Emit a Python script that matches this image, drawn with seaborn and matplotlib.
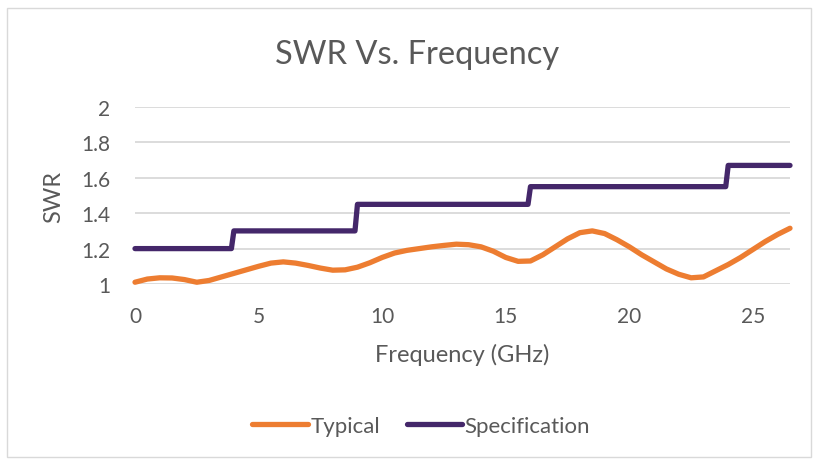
import matplotlib
matplotlib.use("Agg")
import matplotlib.pyplot as plt
import seaborn as sns
import pandas as pd
from matplotlib.patches import Rectangle

# ---- data ----
typ_freq = [0, 0.5, 1.0, 1.5, 2.0, 2.5, 3.0, 3.5, 4.0, 4.5, 5.0, 5.5, 6.0, 6.5,
            7.0, 7.5, 8.0, 8.5, 9.0, 9.5, 10.0, 10.5, 11.0, 11.5, 12.0, 12.5,
            13.0, 13.5, 14.0, 14.5, 15.0, 15.5, 16.0, 16.5, 17.0, 17.5, 18.0,
            18.5, 19.0, 19.5, 20.0, 20.5, 21.0, 21.5, 22.0, 22.5, 23.0, 23.5,
            24.0, 24.5, 25.0, 25.5, 26.0, 26.5]
typ_swr = [1.010, 1.028, 1.035, 1.034, 1.025, 1.010, 1.020, 1.040, 1.060, 1.080,
           1.100, 1.118, 1.125, 1.118, 1.105, 1.090, 1.078, 1.080, 1.095, 1.120,
           1.150, 1.175, 1.190, 1.200, 1.210, 1.218, 1.225, 1.222, 1.210, 1.185,
           1.150, 1.128, 1.130, 1.165, 1.210, 1.255, 1.290, 1.300, 1.285, 1.250,
           1.210, 1.165, 1.125, 1.085, 1.055, 1.035, 1.040, 1.075, 1.110, 1.150,
           1.195, 1.240, 1.280, 1.315]

spec_freq = [0, 3.9, 4.0, 8.9, 9.0, 15.9, 16.0, 23.9, 24.0, 26.5]
spec_swr = [1.20, 1.20, 1.30, 1.30, 1.45, 1.45, 1.55, 1.55, 1.67, 1.67]

x_ticks = [0, 5, 10, 15, 20, 25]
y_ticks = [1, 1.2, 1.4, 1.6, 1.8, 2]
y_tick_labels = ["1", "1.2", "1.4", "1.6", "1.8", "2"]

ORANGE = "#ED7D31"
PURPLE = "#44276A"
GREY = "#595959"

sns.set_style("white")
plt.rcParams["font.family"] = ["Lato", "DejaVu Sans"]

W, H = 813, 460
fig = plt.figure(figsize=(W / 100, H / 100), dpi=100)

# chart border
fig.patches.append(Rectangle((7 / W, 1 - 458 / H), (811 - 7) / W, (458 - 9) / H,
                             transform=fig.transFigure, fill=False,
                             edgecolor="#D9D9D9", lw=1.0))

ax = fig.add_axes([135 / W, 1 - 285 / H, (790 - 135) / W, (285 - 108) / H])

df_typ = pd.DataFrame({"Frequency": typ_freq, "SWR": typ_swr})
df_spec = pd.DataFrame({"Frequency": spec_freq, "SWR": spec_swr})

sns.lineplot(data=df_typ, x="Frequency", y="SWR", ax=ax, color=ORANGE,
             lw=3.8, label="Typical", clip_on=False, solid_capstyle="round",
             zorder=3)
sns.lineplot(data=df_spec, x="Frequency", y="SWR", ax=ax, color=PURPLE,
             lw=3.8, label="Specification", clip_on=False,
             solid_capstyle="round", zorder=3, sort=False)

ax.set_xlim(0, 26.5)
ax.set_ylim(1, 2)
ax.set_xticks(x_ticks)
ax.set_yticks(y_ticks)
ax.set_yticklabels(y_tick_labels)
ax.grid(axis="y", color="#D9D9D9", lw=1.3)
ax.grid(axis="x", visible=False)
for s in ax.spines.values():
    s.set_visible(False)
ax.tick_params(axis="both", length=0, labelsize=15, colors=GREY)
ax.tick_params(axis="x", pad=16)
ax.tick_params(axis="y", pad=18)

ax.set_xlabel("Frequency (GHz)", fontsize=17, color=GREY, labelpad=12)
ax.set_ylabel("SWR", fontsize=17, color=GREY, labelpad=12)

fig.text(417.5 / W, 1 - 55 / H, "SWR Vs. Frequency", ha="center", va="center",
         fontsize=23.5, color=GREY)

ax.get_legend().remove()
handles, labels = ax.get_legend_handles_labels()
fig.legend(handles, labels, loc="center", bbox_to_anchor=(0.518, 1 - 427 / H),
           ncol=2, frameon=False, fontsize=16, handlelength=2.5,
           handletextpad=0.1, columnspacing=1.2, labelcolor=GREY)

fig.savefig("out.png", dpi=100)
